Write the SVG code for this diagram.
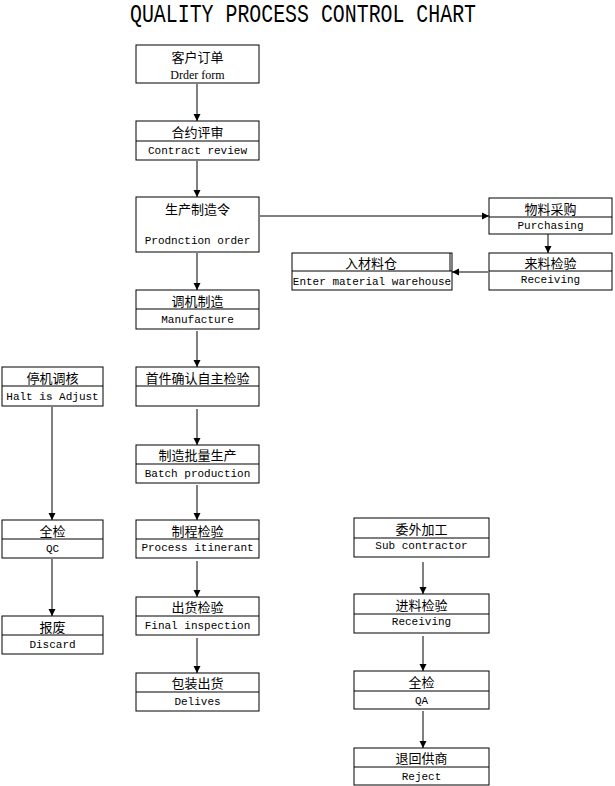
<svg xmlns="http://www.w3.org/2000/svg" width="615" height="786" viewBox="0 0 615 786">
<style>
  rect.box { fill: #fff; stroke: #000; stroke-width: 1; }
  line.div { stroke: #000; stroke-width: 1; }
  text { fill: #000; text-anchor: middle; dominant-baseline: central; }
  .zh { font-family: "Noto Sans CJK SC", "Liberation Sans", sans-serif; font-size: 13px; }
  .en { font-family: "Liberation Mono", monospace; font-size: 11px; }
  .serif { font-family: "Liberation Serif", serif; font-size: 12px; }
  .title { font-family: "Liberation Mono", monospace; font-size: 20px; }
  #connectors line { stroke: #000; stroke-width: 1; marker-end: url(#arr); }
</style>
<defs>
  <marker id="arr" markerUnits="userSpaceOnUse" markerWidth="8" markerHeight="8" refX="7" refY="4" orient="auto">
    <path d="M0,0.5 L7,4 L0,7.5 Z" fill="#000"/>
  </marker>
</defs>
<rect width="615" height="786" fill="#fff"/>
<g id="title">
  <text class="title" transform="translate(303,15) scale(1,1.3)" textLength="346" lengthAdjust="spacingAndGlyphs">QUALITY PROCESS CONTROL CHART</text>
</g>

<g id="connectors">
  <line x1="197" y1="84" x2="197" y2="121"/>
  <line x1="197" y1="161" x2="197" y2="197"/>
  <line x1="197" y1="253" x2="197" y2="290"/>
  <line x1="197" y1="331" x2="197" y2="367"/>
  <line x1="197" y1="409" x2="197" y2="445"/>
  <line x1="197" y1="485" x2="197" y2="520"/>
  <line x1="197" y1="561" x2="197" y2="597"/>
  <line x1="197" y1="638" x2="197" y2="673"/>
  <line x1="260" y1="216" x2="489" y2="216"/>
  <line x1="548" y1="234" x2="548" y2="253"/>
  <line x1="488" y1="272" x2="452" y2="272"/>
  <line x1="52" y1="407" x2="52" y2="520"/>
  <line x1="52" y1="559" x2="52" y2="616"/>
  <line x1="423" y1="562" x2="423" y2="594"/>
  <line x1="423" y1="636" x2="423" y2="671"/>
  <line x1="423" y1="711" x2="423" y2="748"/>
</g>

<g id="order">
  <rect class="box" x="136" y="45" width="123" height="38"/>
  <text class="zh" x="197.5" y="56">客户订单</text>
  <text class="serif" x="197.5" y="75">Drder form</text>
</g>
<g id="contract">
  <rect class="box" x="136" y="121" width="123" height="39"/>
  <line class="div" x1="136" y1="141" x2="259" y2="141"/>
  <text class="zh" x="197.5" y="131">合约评审</text>
  <text class="en" x="197.5" y="151">Contract review</text>
</g>
<g id="production-order">
  <rect class="box" x="136" y="197" width="123" height="55"/>
  <text class="zh" x="197.5" y="208">生产制造令</text>
  <text class="en" x="197.5" y="241">Prodnction order</text>
</g>
<g id="manufacture">
  <rect class="box" x="136" y="290" width="123" height="39"/>
  <line class="div" x1="136" y1="309" x2="259" y2="309"/>
  <text class="zh" x="197.5" y="300">调机制造</text>
  <text class="en" x="197.5" y="320">Manufacture</text>
</g>
<g id="first-article">
  <rect class="box" x="136" y="367" width="123" height="39"/>
  <line class="div" x1="136" y1="386" x2="259" y2="386"/>
  <text class="zh" x="197.5" y="377">首件确认自主检验</text>
</g>
<g id="batch">
  <rect class="box" x="136" y="445" width="123" height="38"/>
  <line class="div" x1="136" y1="464" x2="259" y2="464"/>
  <text class="zh" x="197.5" y="454.5">制造批量生产</text>
  <text class="en" x="197.5" y="474">Batch production</text>
</g>
<g id="process">
  <rect class="box" x="136" y="520" width="123" height="38"/>
  <line class="div" x1="136" y1="539" x2="259" y2="539"/>
  <text class="zh" x="197.5" y="530">制程检验</text>
  <text class="en" x="197.5" y="548">Process itinerant</text>
</g>
<g id="final">
  <rect class="box" x="136" y="597" width="123" height="38"/>
  <line class="div" x1="136" y1="616" x2="259" y2="616"/>
  <text class="zh" x="197.5" y="606.5">出货检验</text>
  <text class="en" x="197.5" y="626">Final inspection</text>
</g>
<g id="delives">
  <rect class="box" x="136" y="673" width="123" height="38"/>
  <line class="div" x1="136" y1="692" x2="259" y2="692"/>
  <text class="zh" x="197.5" y="682.5">包装出货</text>
  <text class="en" x="197.5" y="702">Delives</text>
</g>

<g id="halt">
  <rect class="box" x="2" y="367" width="101" height="39"/>
  <line class="div" x1="2" y1="386" x2="103" y2="386"/>
  <text class="zh" x="52.5" y="377">停机调核</text>
  <text class="en" x="52.5" y="397">Halt <tspan font-weight="bold" fill="#444">is</tspan> Adjust</text>
</g>
<g id="qc">
  <rect class="box" x="2" y="520" width="101" height="38"/>
  <line class="div" x1="2" y1="539" x2="103" y2="539"/>
  <text class="zh" x="52.5" y="530">全检</text>
  <text class="en" x="52.5" y="549">QC</text>
</g>
<g id="discard">
  <rect class="box" x="2" y="616" width="101" height="38"/>
  <line class="div" x1="2" y1="635" x2="103" y2="635"/>
  <text class="zh" x="52.5" y="626">报废</text>
  <text class="en" x="52.5" y="645">Discard</text>
</g>

<g id="purchasing">
  <rect class="box" x="489" y="198" width="123" height="36"/>
  <line class="div" x1="489" y1="217" x2="612" y2="217"/>
  <text class="zh" x="550.5" y="208">物料采购</text>
  <text class="en" x="550.5" y="226">Purchasing</text>
</g>
<g id="receiving">
  <rect class="box" x="489" y="253" width="123" height="37"/>
  <line class="div" x1="489" y1="271" x2="612" y2="271"/>
  <text class="zh" x="550.5" y="262">来料检验</text>
  <text class="en" x="550.5" y="280">Receiving</text>
</g>
<g id="warehouse">
  <rect class="box" x="292" y="253" width="160" height="37"/>
  <line class="div" x1="292" y1="271" x2="452" y2="271"/>
  <line class="div" x1="450" y1="253" x2="450" y2="271"/>
  <text class="zh" x="371" y="262">入材料仓</text>
  <text class="en" x="372" y="282">Enter material warehouse</text>
</g>

<g id="subcontractor">
  <rect class="box" x="354" y="518" width="135" height="39"/>
  <line class="div" x1="354" y1="538" x2="489" y2="538"/>
  <text class="zh" x="421.5" y="528">委外加工</text>
  <text class="en" x="421.5" y="546">Sub contractor</text>
</g>
<g id="incoming">
  <rect class="box" x="354" y="594" width="135" height="39"/>
  <line class="div" x1="354" y1="614" x2="489" y2="614"/>
  <text class="zh" x="421.5" y="604">进料检验</text>
  <text class="en" x="421.5" y="622">Receiving</text>
</g>
<g id="qa">
  <rect class="box" x="354" y="671" width="135" height="38"/>
  <line class="div" x1="354" y1="691" x2="489" y2="691"/>
  <text class="zh" x="421.5" y="681">全检</text>
  <text class="en" x="421.5" y="701">QA</text>
</g>
<g id="reject">
  <rect class="box" x="354" y="748" width="135" height="37"/>
  <line class="div" x1="354" y1="767" x2="489" y2="767"/>
  <text class="zh" x="421.5" y="757.5">退回供商</text>
  <text class="en" x="421.5" y="777">Reject</text>
</g>
</svg>
